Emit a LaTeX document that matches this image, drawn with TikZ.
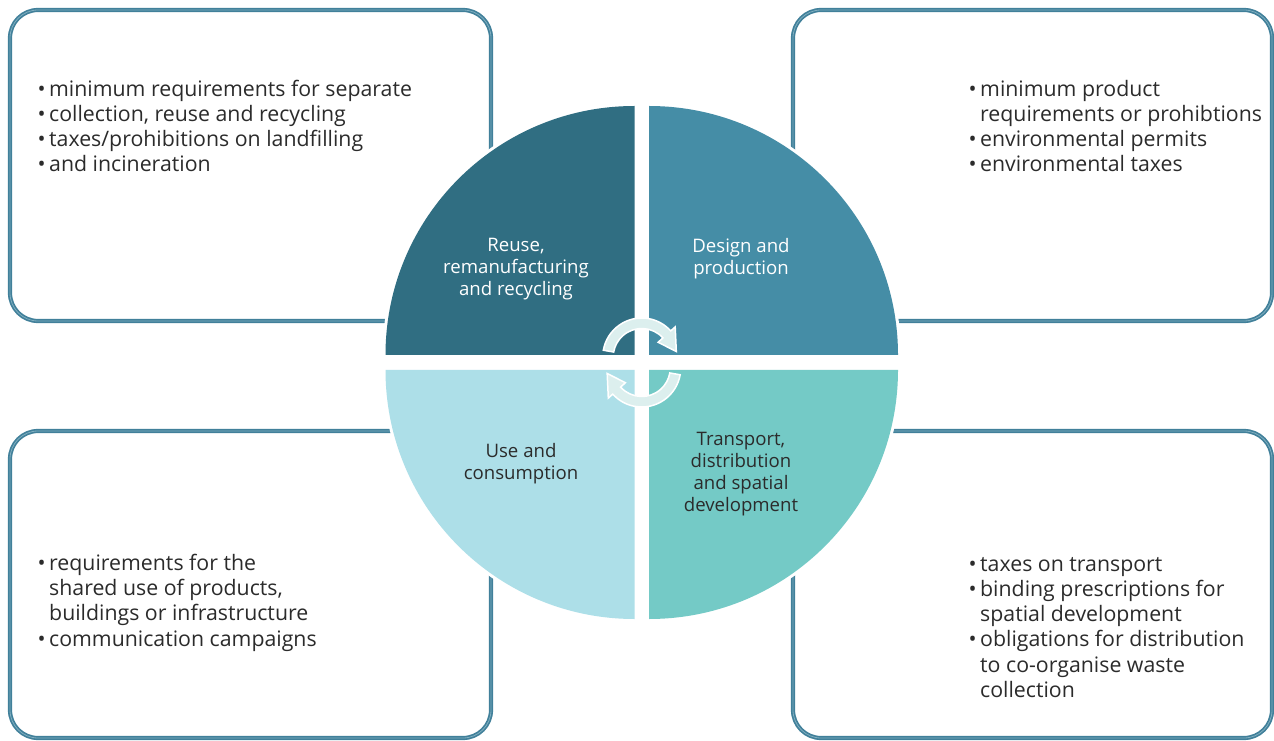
\documentclass[tikz,border=0pt]{standalone}
\usepackage{fontspec}
\setmainfont{Open Sans}
\usepackage{tikz}
\definecolor{rimblue}{HTML}{41809A}
\definecolor{rimlight}{HTML}{7FAEBF}
\definecolor{qreuse}{HTML}{306E82}
\definecolor{qdesign}{HTML}{458DA6}
\definecolor{qtrans}{HTML}{74CAC6}
\definecolor{quse}{HTML}{ADDFE8}
\definecolor{cycfill}{HTML}{DCEFEE}
\definecolor{txt}{HTML}{2B2B2B}
\tikzset{
	panel/.style={draw=rimblue, double=rimlight, double distance=0.8pt, line width=1.7pt,
		rounded corners=28pt, fill=white},
	quad/.style={preaction={draw=white, line width=6pt}},
	cyc/.style={draw=white, line width=1.5pt, fill=cycfill, line join=miter},
	lst/.style={anchor=base west, inner sep=0pt, align=left, text=txt,
		font=\fontsize{21.3}{25.3}\selectfont},
	lbl/.style={align=center, inner sep=0pt, font=\fontsize{18.6}{22}\selectfont},
}
\newcommand{\bpt}{\makebox[11.5pt][l]{\textbullet}}
\newcommand{\hng}{\hspace*{11.5pt}}

\begin{document}
\begin{tikzpicture}[x=1pt, y=1pt]
				\useasboundingbox (0,0) rectangle (1274,740);
				\node[panel, minimum width=481pt, minimum height=311pt] at (250.5,574.5) (tlbox) {};
				\node[panel, minimum width=479pt, minimum height=311pt] at (1032.5,574.5) (trbox) {};
				\node[panel, minimum width=481pt, minimum height=307pt] at (250.5,155.5) (blbox) {};
				\node[panel, minimum width=479pt, minimum height=307pt] at (1032.5,155.5) (brbox) {};
				\fill[quad, qdesign] (649,385) -- ++(0:249) arc[start angle=0, end angle=90, radius=249] -- cycle;
				\fill[quad, qtrans] (649,370) -- ++(0:249) arc[start angle=0, end angle=-90, radius=249] -- cycle;
				\fill[quad, quse] (634.5,370) -- ++(180:249) arc[start angle=180, end angle=270, radius=249] -- cycle;
				\fill[quad, qreuse] (634.5,385) -- ++(180:249) arc[start angle=180, end angle=90, radius=249] -- cycle;
				\foreach \rot in {0,180} {
					\begin{scope}[shift={(641.75,377.5)}, rotate=\rot, shift={(0,5.5)}]
						\draw[cyc] (170:39) arc[start angle=170, end angle=42, radius=39] -- (42:45)
							-- (9:35) -- (42:22) -- (42:28.5) arc[start angle=42, end angle=170, radius=28.5] -- cycle;
					\end{scope}
				}
				\node[lbl, text=white] at (516,471) (reuse) {Reuse,\\remanufacturing\\and recycling};
				\node[lbl, text=white] at (741,481) (design) {Design and\\production};
				\node[lbl, text=txt] at (521,276) (use) {Use and\\consumption};
				\node[lbl, text=txt] at (741,266) (trans) {Transport,\\distribution\\and spatial\\development};
				\node[lst] at (37.5,568) (tltxt) {\bpt minimum requirements for separate\\\bpt collection, reuse and recycling\\\bpt taxes/prohibitions on landfilling\\\bpt and incineration};
				\node[lst] at (968.5,568) (trtxt) {\bpt minimum product\\\hng requirements or prohibtions\\\bpt environmental permits\\\bpt environmental taxes};
				\node[lst] at (37.5,94) (bltxt) {\bpt requirements for the\\\hng shared use of products,\\\hng buildings or infrastructure\\\bpt communication campaigns};
				\node[lst] at (968.5,42.5) (brtxt) {\bpt taxes on transport\\\bpt binding prescriptions for\\\hng spatial development\\\bpt obligations for distribution\\\hng to co-organise waste\\\hng collection};
			\end{tikzpicture}
\end{document}
